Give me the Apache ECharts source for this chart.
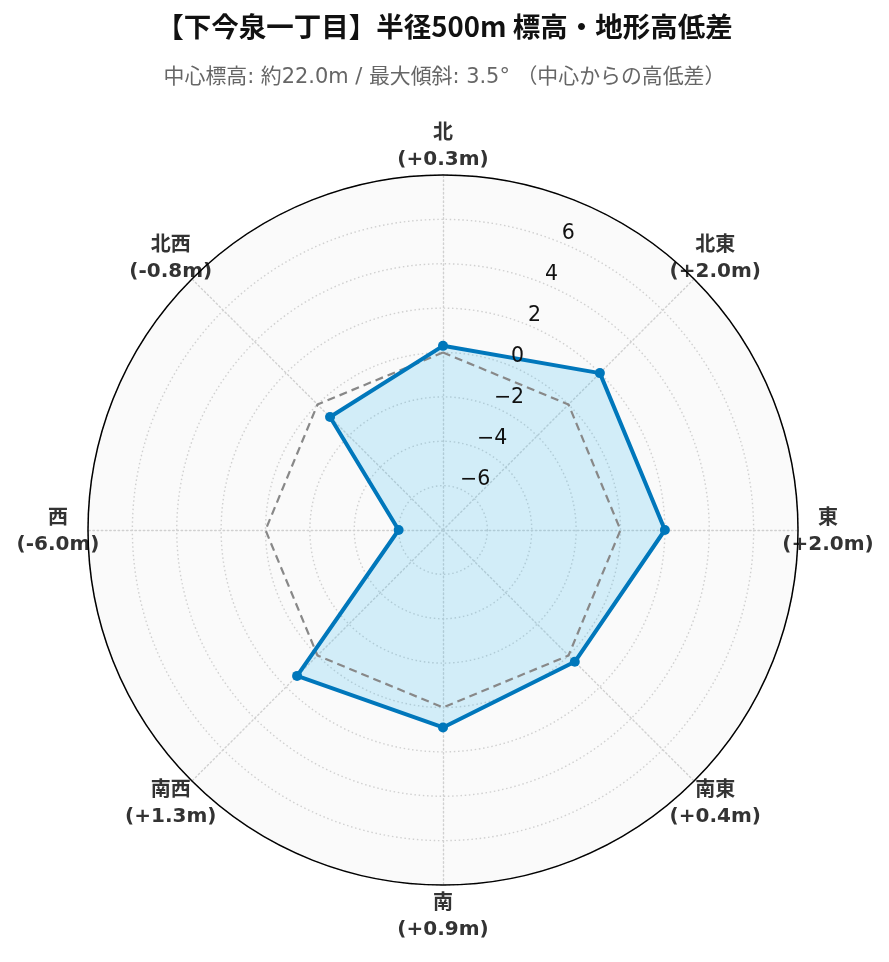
<!DOCTYPE html>
<html><head><meta charset="utf-8">
<script src="https://cdn.jsdelivr.net/npm/echarts@6/dist/echarts.min.js"></script>
<style>html,body{margin:0;padding:0;background:#fff}#c{width:889px;height:962px}</style>
</head><body><div id="c"></div>
<script>
const directions = ['北','北東','東','南東','南','南西','西','北西'];
const elevationDiff = [0.3, 2.0, 2.0, 0.4, 0.9, 1.3, -6.0, -0.8];
const referenceLevel = [0, 0, 0, 0, 0, 0, 0, 0];
const radialTicks = [-6, -4, -2, 0, 2, 4, 6];
const axisMin = -8, axisMax = 8;
const titleText = '【下今泉一丁目】半径500m 標高・地形高低差';
const subtitleText = '中心標高: 約22.0m / 最大傾斜: 3.5° （中心からの高低差）';

// ECharts radar lays indicators counter-clockwise; reorder so they run clockwise from north
const order = [0, 7, 6, 5, 4, 3, 2, 1];
const fmt = v => (v >= 0 ? '+' : '-') + Math.abs(v).toFixed(1);
const pick = arr => order.map(i => arr[i]);
const diffLabel = {};
directions.forEach((d, i) => { diffLabel[d] = '(' + fmt(elevationDiff[i]) + 'm)'; });
const indicator = order.map(i => ({name: directions[i], min: axisMin, max: axisMax}));

const center = [443, 530];
const R = 355;
const gridLine = {color: '#d0d0d0', type: [1.5, 2.7], width: 1.4};
const nameFont = {color: '#333', fontSize: 20, fontWeight: 'bold', fontFamily: 'DejaVu Sans, Noto Sans CJK JP', lineHeight: 29, align: 'center'};
const chart = echarts.init(document.getElementById('c'), null, {renderer: 'canvas'});
chart.setOption({
  animation: false,
  backgroundColor: '#ffffff',
  title: [
    {text: titleText, left: 'center', top: 12, padding: 0,
     textStyle: {fontFamily: 'Noto Sans CJK JP', fontSize: 27.5, fontWeight: 'bold', color: '#111', lineHeight: 30}},
    {text: subtitleText, left: 'center', top: 66, padding: 0,
     textStyle: {fontFamily: 'DejaVu Sans, Noto Sans CJK JP', fontSize: 20.9, fontWeight: 'normal', color: '#666', lineHeight: 24}}
  ],
  radar: {
    center: center, radius: R, startAngle: 90, shape: 'circle', splitNumber: 8,
    indicator: indicator,
    nameGap: 30,
    axisName: Object.assign({}, nameFont, {
      verticalAlign: 'middle',
      formatter: name => '{a|' + name + '}\n{b|' + diffLabel[name] + '}',
      rich: {
        a: Object.assign({}, nameFont, {padding: [6, 0, 0, 0]}),
        b: Object.assign({}, nameFont)
      }
    }),
    axisLine: {lineStyle: gridLine},
    splitLine: {lineStyle: gridLine},
    splitArea: {show: true, areaStyle: {color: ['#fafafa']}},
    axisTick: {show: false},
    axisLabel: {show: false}
  },
  polar: {center: center, radius: R},
  angleAxis: {
    type: 'value', min: 0, max: 360, startAngle: 67.5, z: 5,
    axisLine: {show: true, lineStyle: {color: '#000', width: 1.5}},
    axisTick: {show: false}, axisLabel: {show: false}, splitLine: {show: false}
  },
  radiusAxis: {
    type: 'value', min: axisMin, max: axisMax, interval: 2, z: 10,
    axisLine: {show: false}, axisTick: {show: false}, splitLine: {show: false},
    axisLabel: {
      show: true, margin: 0, align: 'left', verticalAlign: 'bottom', lineHeight: 18,
      fontSize: 20.5, color: '#111', fontFamily: 'DejaVu Sans',
      formatter: v => radialTicks.includes(v) ? (v < 0 ? '\u2212' + Math.abs(v) : String(v)) : ''
    }
  },
  series: [
    {type: 'radar', z: 2, symbol: 'none', silent: true,
     lineStyle: {width: 0, opacity: 0},
     areaStyle: {color: 'rgba(51,187,238,0.2)', opacity: 1},
     data: [{value: pick(elevationDiff)}]},
    {type: 'radar', z: 3, symbol: 'none', silent: true,
     lineStyle: {color: '#888888', width: 2.2, type: [8, 5]},
     data: [{value: pick(referenceLevel)}]},
    {type: 'radar', z: 4, symbol: 'circle', symbolSize: 10,
     itemStyle: {color: '#0077BB'},
     lineStyle: {color: '#0077BB', width: 4},
     data: [{value: pick(elevationDiff)}]}
  ]
});
</script></body></html>
